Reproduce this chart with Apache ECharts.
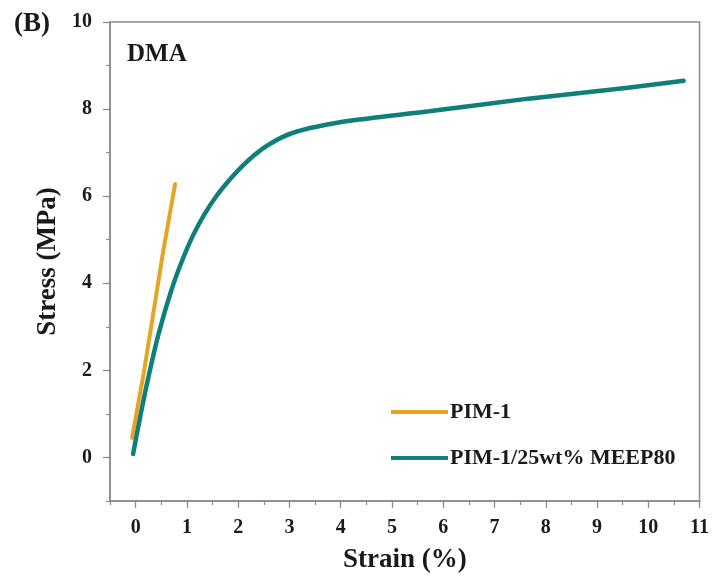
<!DOCTYPE html>
<html>
<head>
<meta charset="utf-8">
<script src="https://cdn.jsdelivr.net/npm/echarts@6/dist/echarts.min.js"></script>
<style>html,body{margin:0;padding:0;background:#fff}#c{width:712px;height:579px}</style>
</head>
<body>
<div id="c"></div>
<script>
const seriesNames = ['PIM-1', 'PIM-1/25wt% MEEP80'];
const pimStrain = [-0.07, 0.16, 0.35, 0.54, 0.77];
const pimStress = [0.45, 1.95, 3.35, 4.75, 6.28];
const meepStrain = [-0.05, 0.1, 0.25, 0.45, 0.7, 0.9, 1.12, 1.35, 1.58, 1.85, 2.09, 2.3, 2.55, 2.85, 3.13, 3.71, 4.36, 5.72, 7.66, 9.6, 10.69];
const meepStress = [0.08, 1.0, 1.85, 2.85, 3.85, 4.5, 5.1, 5.6, 6.01, 6.4, 6.7, 6.93, 7.15, 7.35, 7.48, 7.64, 7.76, 7.95, 8.24, 8.49, 8.65];
const xTickLabels = [0, 1, 2, 3, 4, 5, 6, 7, 8, 9, 10, 11];
const yTickLabels = [0, 2, 4, 6, 8, 10];

const font = '"Liberation Serif", "Times New Roman", serif';
const axisColor = '#8a8a8a';
const textColor = '#1a1a1a';
const zip = (a, b) => a.map((v, i) => [v, b[i]]);

const chart = echarts.init(document.getElementById('c'), null, {renderer: 'canvas'});
chart.setOption({
  animation: false,
  backgroundColor: '#fff',
  grid: {left: 110, right: 10, top: 22, bottom: 76, show: true, borderColor: axisColor, borderWidth: 1.5, backgroundColor: 'transparent'},
  xAxis: [
    {type: 'value', min: -0.5, max: 11, interval: 0.5, position: 'bottom',
     axisLine: {show: true, onZero: false, lineStyle: {color: axisColor, width: 1.5}},
     axisTick: {show: true, inside: false, length: 4, lineStyle: {color: axisColor, width: 1.2}},
     axisLabel: {show: false}, splitLine: {show: false}},
    {type: 'value', min: -0.5, max: 11, position: 'bottom',
     name: 'Strain (%)', nameLocation: 'middle', nameGap: 46,
     nameTextStyle: {fontFamily: font, fontWeight: 'bold', fontSize: 27, color: textColor},
     axisLine: {show: false, onZero: false},
     axisTick: {show: true, length: 7, customValues: xTickLabels, lineStyle: {color: axisColor, width: 1.2}},
     axisLabel: {show: true, customValues: xTickLabels, margin: 17, fontFamily: font, fontWeight: 'bold', fontSize: 20, color: textColor},
     splitLine: {show: false}}
  ],
  yAxis: [
    {type: 'value', min: -1, max: 10, interval: 1, position: 'left',
     axisLine: {show: true, onZero: false, lineStyle: {color: axisColor, width: 1.5}},
     axisTick: {show: true, length: 4, lineStyle: {color: axisColor, width: 1.2}},
     axisLabel: {show: false}, splitLine: {show: false}},
    {type: 'value', min: -1, max: 10, position: 'left',
     name: 'Stress (MPa)', nameLocation: 'middle', nameGap: 46,
     nameTextStyle: {fontFamily: font, fontWeight: 'bold', fontSize: 27, color: textColor},
     axisLine: {show: false, onZero: false},
     axisTick: {show: true, length: 7, customValues: yTickLabels, lineStyle: {color: axisColor, width: 1.2}},
     axisLabel: {show: true, customValues: yTickLabels, margin: 18, fontFamily: font, fontWeight: 'bold', fontSize: 20, color: textColor},
     splitLine: {show: false}}
  ],
  legend: {
    orient: 'vertical', left: 386, top: 396, itemGap: 24, itemWidth: 57, itemHeight: 4, icon: 'rect',
    textStyle: {fontFamily: font, fontWeight: 'bold', fontSize: 22, color: textColor, padding: [0, 0, 0, -3]},
    data: seriesNames
  },
  graphic: [
    {type: 'text', left: 14, top: 11, style: {text: '(B)', font: 'bold 27px ' + font, fill: textColor}},
    {type: 'text', left: 127, top: 42, style: {text: 'DMA', font: 'bold 25px ' + font, fill: textColor}}
  ],
  series: [
    {name: seriesNames[0], type: 'line', xAxisIndex: 0, yAxisIndex: 0, data: zip(pimStrain, pimStress),
     showSymbol: false, smooth: false, lineStyle: {color: '#E5A524', width: 4, cap: 'round'}, itemStyle: {color: '#E5A524'}},
    {name: seriesNames[1], type: 'line', xAxisIndex: 0, yAxisIndex: 0, data: zip(meepStrain, meepStress),
     showSymbol: false, smooth: 0.3, lineStyle: {color: '#0F7F7A', width: 4.5, cap: 'round'}, itemStyle: {color: '#0F7F7A'}, z: 3}
  ]
});
</script>
</body>
</html>
